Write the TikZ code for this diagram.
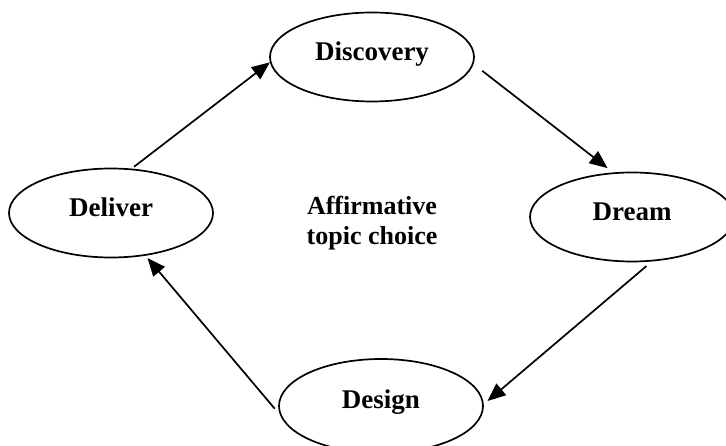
\documentclass[tikz,border=0pt]{standalone}
\usepackage{fontspec}
\setmainfont{Liberation Serif}
\usetikzlibrary{arrows.meta,shapes.geometric}

\begin{document}
\begin{tikzpicture}[
  x=1pt, y=-1pt,
  stage/.style={draw, ellipse, line width=1.7pt, minimum width=204pt, minimum height=89pt, inner sep=0pt,
    text height=18pt, text depth=10pt, font=\fontsize{27}{30}\selectfont\bfseries},
  arr/.style={-{Triangle[length=18pt, width=15pt]}, line width=1.7pt},
]
  \useasboundingbox (0,0) rectangle (726,446);

  \node[stage] (disc) at (372,57) {Discovery};
  \node[stage] (dream) at (632,217) {Dream};
  \node[stage, minimum height=94pt, text depth=13pt] (design) at (381,406) {Design};
  \node[stage] (deliver) at (111,213) {Deliver};

  \node[align=center, font=\fontsize{26}{30}\selectfont\bfseries] (topic) at (372,223) {Affirmative\\topic choice};

  % cycle of the four stages
  \draw[arr, shorten <=3pt] (deliver.65) -- (disc.183);
  \draw[arr, shorten <=11pt, shorten >=7pt] (disc.-4) -- (dream.113);
  \draw[arr, shorten <=7pt, shorten >=5pt] (dream.-66) -- (design.1);
  \draw[arr, shorten <=8pt, shorten >=3pt] (design.185) -- (deliver.-51);
\end{tikzpicture}
\end{document}
